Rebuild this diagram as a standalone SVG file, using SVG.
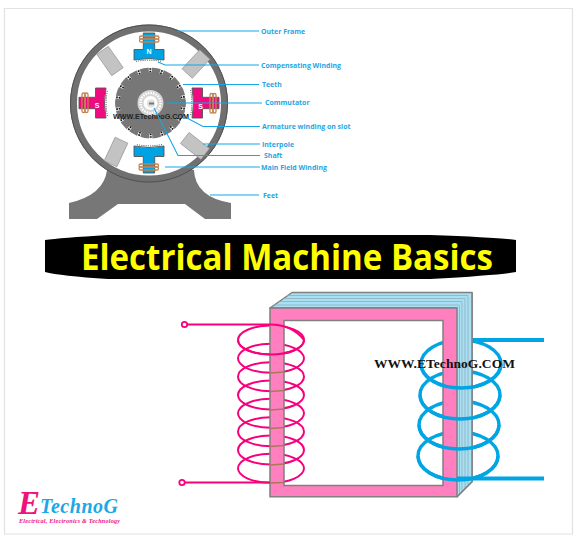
<svg xmlns="http://www.w3.org/2000/svg" xmlns:xlink="http://www.w3.org/1999/xlink" width="579" height="539" viewBox="0 0 579 539">
<style>
.lab{font-family:"Open Sans","Liberation Sans",sans-serif;font-weight:700;font-size:6.950px;fill:#1fa5e4}
.lead{fill:none;stroke:#16a6e6;stroke-width:1.100}
.pk{fill:none;stroke:#f8007c;stroke-width:2}
.bl{fill:none;stroke:#00a6e4;stroke-width:3.400}
.ip{fill:#c3c3c3;stroke:#8a8a8a;stroke-width:.6}
.br{stroke:#a9795a;stroke-width:1.400;fill:none}
.lam{fill:none;stroke:#8aa9b8;stroke-width:.7}
.pl{font-family:"Liberation Sans",sans-serif;font-weight:700;font-size:7px;fill:#fff;text-anchor:middle}
</style>
<defs>
<g id="pole">
<path d="M143.300 33H154.700V49.500H164V60Q149 57 134 60V49.500H143.300Z" stroke="#555" stroke-width=".9"/>
<g fill="none" stroke="#c3824f" stroke-width="1.300"><rect x="139.500" y="36" width="19.500" height="3.200" rx="1.600"/><rect x="139.500" y="38.800" width="19.500" height="3.200" rx="1.600"/></g>
<path d="M136 61.500Q149 58.800 162 61.500" fill="none" stroke="#444" stroke-width="1" stroke-dasharray="1 1.200"/>
</g>
</defs>
<rect width="579" height="539" fill="#fff"/>
<path d="M4.500 534V8.500H572.500V534Z" fill="none" stroke="#e2e2e2" stroke-width="1.200"/>

<g id="motor">
<path d="M107 170Q104 195 69 203V219H97L118 204H185L205 219H231V203Q195 197 194 170Z" fill="#777"/>
<circle cx="149" cy="103.500" r="75.500" fill="#fff" stroke="#707070" stroke-width="7"/>
<circle cx="149" cy="103.500" r="78.500" fill="none" stroke="#505050" stroke-width="1"/>
<g id="interpoles">
<rect class="ip" x="-7" y="-13" width="14" height="26" transform="translate(110,61) rotate(-35)"/>
<rect class="ip" x="-7" y="-13" width="14" height="26" transform="translate(196,64) rotate(43)"/>
<rect class="ip" x="-7" y="-13" width="14" height="26" transform="translate(195,146) rotate(-52)"/>
<rect class="ip" x="-7" y="-13" width="14" height="26" transform="translate(116,152) rotate(25)"/>
</g>
<use xlink:href="#pole" href="#pole" fill="#00a2e3"/>
<use xlink:href="#pole" href="#pole" fill="#00a2e3" transform="rotate(180 149 103)"/>
<use xlink:href="#pole" href="#pole" fill="#ef0a7f" transform="rotate(90 149 103)"/>
<use xlink:href="#pole" href="#pole" fill="#ef0a7f" transform="rotate(-90 149 103)"/>
<text class="pl" x="149" y="53.500">N</text>
<text class="pl" x="200.500" y="109">S</text>
<text class="pl" x="97" y="108">S</text>
<g id="rotor">
<circle cx="150.500" cy="103" r="35.500" fill="#777"/>
<circle cx="150.500" cy="103" r="33.500" fill="none" stroke="#fff" stroke-width="5.500" pathLength="18" stroke-dasharray=".26 .74" transform="rotate(7 150.500 103)"/>
<circle cx="150.500" cy="103" r="34" fill="none" stroke="#111" stroke-width="1.600" pathLength="18" stroke-dasharray=".16 .84" transform="rotate(8 150.500 103)"/>
<circle cx="150.500" cy="103" r="31.500" fill="none" stroke="#111" stroke-width="1.600" pathLength="18" stroke-dasharray=".16 .84" transform="rotate(8 150.500 103)"/>
<circle cx="150.500" cy="103" r="13" fill="#d4d4d4"/>
<circle cx="150.500" cy="103" r="10" fill="none" stroke="#fff" stroke-width="2.500" pathLength="24" stroke-dasharray=".55 .45"/>
<circle cx="150.500" cy="103" r="7" fill="#fff"/>
<circle cx="151" cy="103.500" r="4" fill="#dedede"/>
<rect x="149" y="102.500" width="5" height="2" fill="#777"/>
</g>
<text x="113" y="119" font-family="Liberation Sans, sans-serif" font-weight="700" font-size="8px" fill="#222" textLength="76" lengthAdjust="spacingAndGlyphs">WWW.ETechnoG.COM</text>
</g>

<g id="connectors">
<path class="lead" d="M177 31H259"/>
<path class="lead" d="M158 62L165 65H259"/>
<path class="lead" d="M183 84.500H259"/>
<path class="lead" d="M167 103H262"/>
<path class="lead" d="M187 118L203 126.500H260"/>
<path class="lead" d="M203 144H260"/>
<path class="lead" d="M154 108L178 155.500H260"/>
<path class="lead" d="M165 167H260"/>
<path class="lead" d="M210 195H259"/>
</g>
<g id="labels">
<text class="lab" x="261" y="33.500">Outer Frame</text>
<text class="lab" x="261" y="67.500">Compensating Winding</text>
<text class="lab" x="262" y="86.500">Teeth</text>
<text class="lab" x="265" y="105">Commutator</text>
<text class="lab" x="262" y="128.800">Armature winding on slot</text>
<text class="lab" x="262" y="146.500">Interpole</text>
<text class="lab" x="264" y="158">Shaft</text>
<text class="lab" x="261" y="169.500">Main Field Winding</text>
<text class="lab" x="263" y="197.500">Feet</text>
</g>

<g id="title">
<path d="M45 240Q60 238 108 235H430Q500 237.500 516 240V272Q500 275 430 279H108Q60 276 45 272Z" fill="#000"/>
<text x="81" y="270" font-family="Open Sans, sans-serif" font-weight="700" font-size="35px" fill="#ffff00" textLength="412" lengthAdjust="spacingAndGlyphs">Electrical Machine Basics</text>
</g>

<g id="transformer">
<path d="M270 308L292 292.500H472V481.700L457 496.700V308Z" fill="#a9dff2" stroke="#808080" stroke-width="1.500" stroke-linejoin="round"/>
<g class="lam">
<path d="M274 305H459.500V493"/><path d="M279 301.500H462V490.500"/><path d="M283 298.500H465V488"/><path d="M287 295.500H468V485"/>
</g>
<g id="coil-a-back">
<ellipse class="pk" cx="271" cy="340" rx="33" ry="14.500"/>
<ellipse class="pk" cx="271" cy="358.300" rx="33" ry="14.500"/>
<ellipse class="pk" cx="271" cy="376.700" rx="33" ry="14.500"/>
<ellipse class="pk" cx="271" cy="395" rx="33" ry="14.500"/>
<ellipse class="pk" cx="271" cy="413.300" rx="33" ry="14.500"/>
<ellipse class="pk" cx="271" cy="431.700" rx="33" ry="14.500"/>
<ellipse class="pk" cx="271" cy="450" rx="33" ry="14.500"/>
<ellipse class="pk" cx="271" cy="468.300" rx="33" ry="14.500"/>
</g>
<g id="coil-b-back">
<ellipse class="bl" cx="461" cy="364" rx="40" ry="24"/>
<ellipse class="bl" cx="460" cy="395" rx="40" ry="24"/>
<ellipse class="bl" cx="459" cy="425" rx="40" ry="24"/>
<ellipse class="bl" cx="458" cy="456" rx="40" ry="24"/>
</g>
<path d="M457 308L472 292.500V481.700L457 496.700Z" fill="#a9dff2"/>
<path d="M459.500 306V494M462 303V491M465 300V488M468 297V485" class="lam"/>
<path d="M472 292.500V481.700L457 496.700" fill="none" stroke="#808080" stroke-width="1.500"/>
<path d="M270 308H457V496.700H270ZM284 320.500V485.500H443V320.500Z" fill="#ff7fbf" fill-rule="evenodd" stroke="#808080" stroke-width="1.500"/>
<g id="coil-a-front">
<path class="pk" d="M185 324.500H270Q292 324.500 304 340"/>
<path class="pk" d="M238 340A33 14.500 0 0 0 304 340"/>
<path class="br" d="M270 373L284 372M270 391.500L284 390.500M270 410L284 409M270 428.500L284 427.500M270 446.500L284 445.500M270 465L284 464"/>
<path d="M183 482.500H270" class="pk"/>
<path class="br" d="M270 483L284 482.500"/>
<circle cx="184.500" cy="324.500" r="2.700" fill="#fff" stroke="#f8007c" stroke-width="1.800"/>
<circle cx="182" cy="482.500" r="2.700" fill="#fff" stroke="#f8007c" stroke-width="1.800"/>
</g>
<g id="coil-b-front">
<path class="bl" d="M421 364A40 24 0 0 0 501 364"/>
<path class="bl" d="M420 395A40 24 0 0 0 500 395"/>
<path class="bl" d="M419 425A40 24 0 0 0 499 425"/>
<path class="bl" d="M418 456A40 24 0 0 0 498 456"/>
<path d="M473 340H544M457 478.500H544" fill="none" stroke="#00a6e4" stroke-width="3.800"/>
</g>
<text x="374" y="368" font-family="Liberation Serif, serif" font-weight="700" font-size="13.500px" fill="#111" textLength="141">WWW.ETechnoG.COM</text>
</g>

<g id="logo">
<text x="18" y="514" font-family="Liberation Serif, serif" font-style="italic" font-weight="700" font-size="33px" fill="#f0107f">E</text>
<text x="40" y="513" font-family="Liberation Serif, serif" font-style="italic" font-weight="700" font-size="20px" fill="#1ba8e6" textLength="78">TechnoG</text>
<text x="19" y="523" font-family="Liberation Serif, serif" font-style="italic" font-weight="700" font-size="6.200px" fill="#f0107f" textLength="101">Electrical, Electronics &amp; Technology</text>
</g>
</svg>
